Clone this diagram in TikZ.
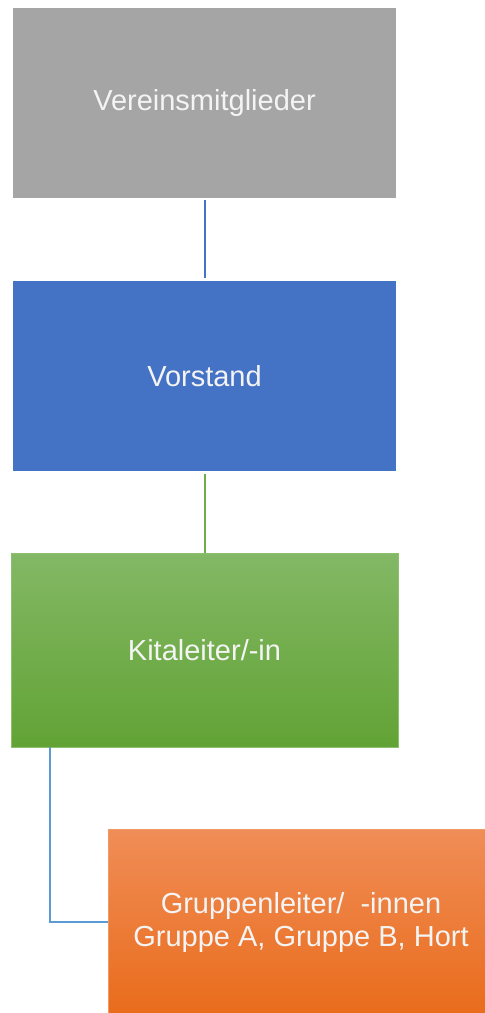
\documentclass[tikz,border=0pt]{standalone}
\usepackage{fontspec}
\setmainfont{Liberation Sans}
\definecolor{grayfill}{HTML}{A5A5A5}
\definecolor{bluefill}{HTML}{4472C4}
\definecolor{greentop}{HTML}{83B865}
\definecolor{greenbot}{HTML}{62A335}
\definecolor{greenedge}{HTML}{8CC06C}
\definecolor{orangetop}{HTML}{F08D57}
\definecolor{orangebot}{HTML}{E96C1B}
\definecolor{orangeedge}{HTML}{F29A66}
\definecolor{lineblue}{HTML}{4472C4}
\definecolor{linegreen}{HTML}{70AD47}
\definecolor{linesky}{HTML}{5B9BD5}
\definecolor{txt}{HTML}{F4F4F4}
\begin{document}
\begin{tikzpicture}[x=1pt,y=-1pt,
  box/.style={rectangle, inner sep=0pt, text=txt, align=center,
    font=\fontsize{29}{33}\selectfont},
  conn/.style={line width=2pt}]
\useasboundingbox (0,0) rectangle (485,1013);
\clip (0,0) rectangle (485,1013);
\node[box, fill=grayfill, minimum width=383pt, minimum height=190pt] (mitglieder) at (204.5,103) {Vereinsmitglieder};
\node[box, fill=bluefill, minimum width=383pt, minimum height=190pt] (vorstand) at (204.5,376) {Vorstand};
\node[box, top color=greentop, bottom color=greenbot, draw=greenedge, line width=0.8pt, minimum width=387pt, minimum height=194pt] (kita) at (204.5,650) {Kitaleiter/-in};
\node[box, top color=orangetop, bottom color=orangebot, draw=orangeedge, line width=0.8pt, minimum width=386pt, minimum height=186pt] (gruppen) at (301,922) {Gruppenleiter/\ \ -innen\\Gruppe A, Gruppe B, Hort};
\draw[conn, lineblue, shorten <=2pt, shorten >=3pt] (mitglieder.south) -- (vorstand.north);
\draw[conn, linegreen, shorten <=3pt] (vorstand.south) -- (kita.north);
\coordinate (abzweig) at ([xshift=39pt]kita.south west);
\draw[conn, linesky] (abzweig) |- (gruppen.west);
\end{tikzpicture}
\end{document}
